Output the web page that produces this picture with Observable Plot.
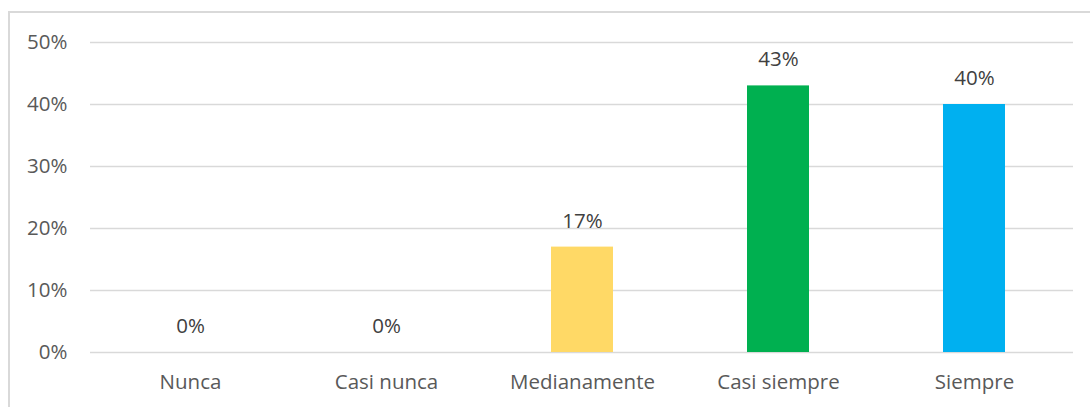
<!DOCTYPE html>
<html>
<head>
<meta charset="utf-8">
<script src="https://cdn.jsdelivr.net/npm/d3@7"></script>
<script src="https://cdn.jsdelivr.net/npm/@observablehq/plot@0.6"></script>
<style>
  html, body { margin: 0; padding: 0; background: #fff; overflow: hidden; }
  #wrap { position: relative; width: 1090px; height: 407px; overflow: hidden; }
  #frame { position: absolute; left: 8px; top: 11px; width: 1200px; height: 500px;
           border-top: 2px solid #d9d9d9; border-left: 2px solid #d9d9d9; box-sizing: border-box; }
  #chart { position: absolute; left: 0; top: 0; }
</style>
</head>
<body>
<div id="wrap"><div id="frame"></div><div id="chart"></div></div>
<script>
const categories = ["Nunca", "Casi nunca", "Medianamente", "Casi siempre", "Siempre"];
const values = [0, 0, 0.17, 0.43, 0.40];
const colors = ["#A5A5A5", "#ED7D31", "#FFD966", "#00B050", "#00B0F0"];
const yTicks = [0, 0.1, 0.2, 0.3, 0.4, 0.5];

const data = categories.map((c, i) => ({category: c, value: values[i], color: colors[i]}));
const pct = d3.format(".0%");

const chart = Plot.plot({
  width: 1090,
  height: 407,
  marginTop: 42,
  marginBottom: 55,
  marginLeft: 90,
  marginRight: 17,
  style: {fontFamily: "'Open Sans', sans-serif", fontSize: "20.5px", color: "#595959", background: "transparent"},
  x: {domain: categories, paddingInner: 0.685, paddingOuter: 0.3425, label: null, tickSize: 0, tickPadding: 22},
  y: {domain: [0, 0.5], ticks: yTicks, tickFormat: pct, label: null, tickSize: 0, tickPadding: 23},
  marks: [
    Plot.ruleY(yTicks, {stroke: "#d9d9d9", strokeWidth: 1.5, strokeOpacity: 1}),
    Plot.barY(data, {x: "category", y: "value", fill: "color"}),
    Plot.text(data, {x: "category", y: "value", text: d => pct(d.value), dy: -26, fill: "#404040", fontSize: 20.5})
  ]
});
document.getElementById("chart").appendChild(chart);
</script>
</body>
</html>
